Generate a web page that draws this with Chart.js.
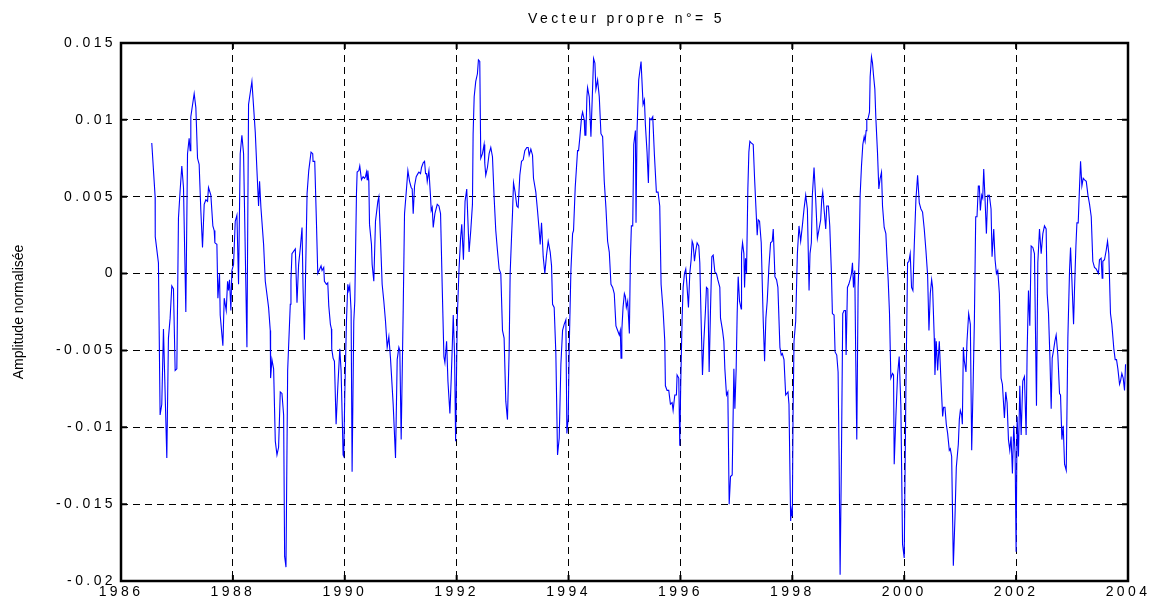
<!DOCTYPE html>
<html>
<head>
<meta charset="utf-8">
<script src="https://cdn.jsdelivr.net/npm/chart.js@4.4.1/dist/chart.umd.min.js"></script>
<style>
  html, body { margin: 0; padding: 0; background: #fff; }
  #wrap { width: 1149px; height: 600px; }
</style>
</head>
<body>
<div id="wrap"><canvas id="chart" width="1149" height="600"></canvas></div>
<script>
const titleText = 'Vecteur propre n°= 5';
const yLabel = 'Amplitude normalisée';
const xTicks = [1986, 1988, 1990, 1992, 1994, 1996, 1998, 2000, 2002, 2004];
const yTicks = [-0.02, -0.015, -0.01, -0.005, 0, 0.005, 0.01, 0.015];

// time (decimal years)
const years = [
  1986.550, 1986.610, 1986.612, 1986.669, 1986.699, 1986.729, 1986.759, 1986.819, 1986.848, 1986.878,
  1986.908, 1986.938, 1986.968, 1986.998, 1987.027, 1987.057, 1987.087, 1987.117, 1987.159, 1987.189,
  1987.218, 1987.236, 1987.248, 1987.308, 1987.338, 1987.368, 1987.397, 1987.427, 1987.457, 1987.487,
  1987.517, 1987.547, 1987.564, 1987.606, 1987.642, 1987.666, 1987.678, 1987.714, 1987.732, 1987.761,
  1987.773, 1987.821, 1987.845, 1987.881, 1987.905, 1987.922, 1987.940, 1987.964, 1987.982, 1988.012,
  1988.042, 1988.072, 1988.101, 1988.131, 1988.161, 1988.191, 1988.251, 1988.280, 1988.340, 1988.400,
  1988.430, 1988.459, 1988.477, 1988.501, 1988.549, 1988.579, 1988.638, 1988.668, 1988.674, 1988.698,
  1988.728, 1988.758, 1988.788, 1988.817, 1988.847, 1988.877, 1988.907, 1988.925, 1988.949, 1988.979,
  1989.026, 1989.038, 1989.056, 1989.116, 1989.146, 1989.175,
  1989.206, 1989.236, 1989.254, 1989.278, 1989.296, 1989.326, 1989.356, 1989.397, 1989.427, 1989.433,
  1989.463, 1989.493, 1989.517, 1989.553, 1989.576, 1989.594, 1989.624, 1989.636, 1989.672, 1989.696,
  1989.714, 1989.743, 1989.761, 1989.767, 1989.791, 1989.815, 1989.845, 1989.875, 1989.911, 1989.934,
  1989.970, 1989.982, 1990.000, 1990.030, 1990.054, 1990.072, 1990.089, 1990.113, 1990.131, 1990.161,
  1990.179, 1990.209, 1990.221, 1990.251, 1990.268, 1990.298, 1990.328, 1990.352, 1990.370, 1990.388,
  1990.400, 1990.412, 1990.430, 1990.442, 1990.477, 1990.489, 1990.519, 1990.549, 1990.591, 1990.609,
  1990.638, 1990.668, 1990.698, 1990.728, 1990.758, 1990.788, 1990.817, 1990.865, 1990.907, 1990.937,
  1990.967, 1990.984, 1991.008, 1991.044, 1991.068, 1991.092, 1991.128, 1991.158, 1991.187, 1991.205,
  1991.223, 1991.247, 1991.277, 1991.307, 1991.325, 1991.354, 1991.372, 1991.402, 1991.426, 1991.444,
  1991.462, 1991.474, 1991.504, 1991.533, 1991.545, 1991.563, 1991.581, 1991.611, 1991.653, 1991.683,
  1991.712, 1991.742, 1991.772, 1991.790, 1991.820, 1991.844, 1991.879, 1991.903, 1991.921, 1991.939,
  1991.963, 1991.981, 1992.011, 1992.041, 1992.070,
  1992.091, 1992.121, 1992.150, 1992.180, 1992.222, 1992.252, 1992.282, 1992.294, 1992.313, 1992.341,
  1992.371, 1992.389, 1992.413, 1992.431, 1992.461, 1992.490, 1992.502, 1992.520, 1992.550, 1992.580,
  1992.610, 1992.640, 1992.669, 1992.699, 1992.729, 1992.759, 1992.789, 1992.819, 1992.848, 1992.878,
  1992.908, 1992.938, 1992.956, 1992.980, 1992.998, 1993.016, 1993.045, 1993.075, 1993.099, 1993.129,
  1993.159, 1993.189, 1993.218, 1993.254, 1993.278, 1993.296, 1993.326, 1993.356, 1993.373, 1993.415,
  1993.445, 1993.475, 1993.493, 1993.517, 1993.547, 1993.576, 1993.606, 1993.636, 1993.672, 1993.696,
  1993.714, 1993.743, 1993.773, 1993.803, 1993.833, 1993.863, 1993.893, 1993.922, 1993.952, 1993.970,
  1993.994, 1994.012, 1994.042, 1994.072, 1994.089, 1994.119, 1994.161, 1994.179, 1994.203, 1994.233,
  1994.251, 1994.280, 1994.292, 1994.310, 1994.328, 1994.340, 1994.370, 1994.400, 1994.430, 1994.447,
  1994.471, 1994.489, 1994.519, 1994.549, 1994.579, 1994.609, 1994.638, 1994.668, 1994.698, 1994.728,
  1994.758, 1994.788, 1994.817, 1994.847, 1994.877, 1994.907, 1994.925, 1994.938,
  1994.952, 1994.974, 1994.998, 1995.016, 1995.033, 1995.057, 1995.087, 1995.105, 1995.123, 1995.147,
  1995.165, 1995.195, 1995.206, 1995.224, 1995.254, 1995.296, 1995.332, 1995.356, 1995.373, 1995.403,
  1995.427, 1995.451, 1995.475, 1995.505, 1995.535, 1995.570, 1995.600, 1995.630, 1995.654, 1995.690,
  1995.720, 1995.731, 1995.761, 1995.791, 1995.821, 1995.851, 1995.869, 1995.899, 1995.928, 1995.940,
  1995.970, 1995.988, 1996.006, 1996.030, 1996.048, 1996.072, 1996.095, 1996.119, 1996.143, 1996.167,
  1996.191, 1996.209, 1996.227, 1996.251, 1996.274, 1996.298, 1996.328, 1996.346, 1996.370, 1996.394,
  1996.418, 1996.447, 1996.465, 1996.489, 1996.513, 1996.537, 1996.561, 1996.585, 1996.615, 1996.644,
  1996.668, 1996.704, 1996.716, 1996.752, 1996.776, 1996.794, 1996.823, 1996.847, 1996.871, 1996.895,
  1996.925, 1996.955, 1996.973, 1996.996, 1997.014, 1997.032, 1997.056, 1997.086, 1997.092, 1997.110,
  1997.134, 1997.146, 1997.163, 1997.181, 1997.205, 1997.223, 1997.241, 1997.265, 1997.301, 1997.325,
  1997.348, 1997.372, 1997.390, 1997.414, 1997.444, 1997.480, 1997.504, 1997.527, 1997.551, 1997.581,
  1997.611, 1997.641, 1997.659, 1997.689, 1997.718, 1997.742, 1997.778, 1997.802,
  1997.821, 1997.851, 1997.881, 1997.922, 1997.940, 1997.970, 1997.982, 1998.000, 1998.012, 1998.030,
  1998.060, 1998.090, 1998.119, 1998.149, 1998.179, 1998.209, 1998.239, 1998.269, 1998.299, 1998.316,
  1998.340, 1998.358, 1998.388, 1998.418, 1998.448, 1998.478, 1998.507, 1998.525, 1998.543, 1998.567,
  1998.597, 1998.615, 1998.645, 1998.669, 1998.699, 1998.716, 1998.746, 1998.764, 1998.794, 1998.818,
  1998.836, 1998.854, 1998.878, 1998.901, 1998.925, 1998.949, 1998.961, 1998.985, 1999.009, 1999.033,
  1999.057, 1999.075, 1999.093, 1999.116, 1999.134, 1999.152, 1999.176, 1999.194, 1999.212, 1999.236,
  1999.260, 1999.284, 1999.301, 1999.319, 1999.331, 1999.355, 1999.379, 1999.391, 1999.415, 1999.433,
  1999.451, 1999.475, 1999.493, 1999.522, 1999.546, 1999.570, 1999.594, 1999.612, 1999.642, 1999.672,
  1999.690, 1999.713, 1999.737, 1999.761, 1999.791, 1999.809, 1999.821, 1999.851, 1999.881, 1999.910,
  1999.940, 1999.970, 2000.000, 2000.030, 2000.060, 2000.084, 2000.107, 2000.131, 2000.155, 2000.179,
  2000.209, 2000.239, 2000.269, 2000.299, 2000.328, 2000.358, 2000.388, 2000.418, 2000.442, 2000.466,
  2000.490, 2000.507, 2000.537, 2000.549, 2000.573, 2000.597, 2000.627, 2000.657,
  2000.687, 2000.704, 2000.728, 2000.752, 2000.776, 2000.806, 2000.824, 2000.848, 2000.878, 2000.907,
  2000.931, 2000.967, 2000.985, 2001.003, 2001.027, 2001.039, 2001.057, 2001.075, 2001.104, 2001.122,
  2001.152, 2001.182, 2001.206, 2001.230, 2001.254, 2001.278, 2001.301, 2001.325, 2001.343, 2001.361,
  2001.385, 2001.403, 2001.421, 2001.445, 2001.469, 2001.493, 2001.522, 2001.552, 2001.570, 2001.600,
  2001.624, 2001.648, 2001.672, 2001.701, 2001.731, 2001.755, 2001.791, 2001.815, 2001.839, 2001.863,
  2001.887, 2001.910, 2001.934, 2001.958, 2001.982, 2002.000, 2002.018, 2002.042, 2002.066, 2002.090,
  2002.119, 2002.149, 2002.179, 2002.197, 2002.221, 2002.245, 2002.269, 2002.299, 2002.328, 2002.346,
  2002.364, 2002.388, 2002.418, 2002.448, 2002.478, 2002.507, 2002.537, 2002.555, 2002.579, 2002.603,
  2002.627, 2002.645, 2002.669, 2002.693, 2002.716, 2002.746, 2002.776, 2002.794, 2002.818, 2002.842,
  2002.866, 2002.896, 2002.925, 2002.955, 2002.973, 2002.997, 2003.027, 2003.045, 2003.069, 2003.087,
  2003.110, 2003.134, 2003.152, 2003.176, 2003.200, 2003.224, 2003.254, 2003.284, 2003.313, 2003.343,
  2003.371, 2003.401, 2003.431, 2003.472, 2003.490, 2003.520, 2003.538, 2003.550, 2003.580, 2003.610,
  2003.634, 2003.657, 2003.687, 2003.711, 2003.747, 2003.771, 2003.795, 2003.819, 2003.849, 2003.866,
  2003.890, 2003.914, 2003.938, 2003.956
];

// normalised amplitude of eigenvector 5, same order as years
const amplitude = [
  0.0085, 0.0050, 0.0024, 0.0007, -0.0092, -0.0085, -0.0036, -0.0120, -0.0042, -0.0029,
  -0.0008, -0.0010, -0.0063, -0.0062, 0.0036, 0.0054, 0.0070, 0.0056, -0.0025, 0.0078,
  0.0088, 0.0080, 0.0102, 0.0117, 0.0108, 0.0075, 0.0071, 0.0041, 0.0017, 0.0045,
  0.0048, 0.0047, 0.0056, 0.0051, 0.0031, 0.0028, 0.0020, 0.0019, -0.0016, 0.0000,
  -0.0027, -0.0047, -0.0016, -0.0024, -0.0005, -0.0011, -0.0004, -0.0024, 0.0002, 0.0006,
  0.0034, 0.0038, -0.0007, 0.0078, 0.0090, 0.0078, -0.0048, 0.0110, 0.0125, 0.0092,
  0.0067, 0.0044, 0.0060, 0.0043, 0.0019, -0.0005, -0.0022, -0.0037, -0.0068, -0.0056,
  -0.0062, -0.0109, -0.0118, -0.0113, -0.0077, -0.0078, -0.0092, -0.0184, -0.0191, -0.0063,
  -0.0020, -0.0004, 0.0013, 0.0016, -0.0019, 0.0006,
  0.0017, 0.0030, -0.0009, -0.0043, -0.0007, 0.0052, 0.0067, 0.0079, 0.0078, 0.0073,
  0.0073, 0.0034, 0.0000, 0.0003, 0.0005, 0.0002, 0.0004, -0.0005, -0.0007, -0.0006,
  -0.0021, -0.0033, -0.0036, -0.0049, -0.0055, -0.0057, -0.0098, -0.0074, -0.0049, -0.0063,
  -0.0118, -0.0119, -0.0079, -0.0031, -0.0007, -0.0011, -0.0008, -0.0024, -0.0129, -0.0031,
  -0.0018, 0.0052, 0.0066, 0.0067, 0.0070, 0.0061, 0.0063, 0.0062, 0.0063, 0.0066,
  0.0061, 0.0067, 0.0060, 0.0032, 0.0019, 0.0006, -0.0005, 0.0034, 0.0047, 0.0050,
  0.0023, -0.0007, -0.0018, -0.0031, -0.0048, -0.0041, -0.0055, -0.0085, -0.0120, -0.0056,
  -0.0048, -0.0050, -0.0108, -0.0024, 0.0039, 0.0050, 0.0067, 0.0060, 0.0056, 0.0055,
  0.0039, 0.0057, 0.0063, 0.0065, 0.0066, 0.0065, 0.0069, 0.0072, 0.0073, 0.0065,
  0.0065, 0.0060, 0.0067, 0.0050, 0.0041, 0.0043, 0.0030, 0.0039, 0.0045, 0.0044,
  0.0039, -0.0009, -0.0054, -0.0058, -0.0044, -0.0070, -0.0091, -0.0068, -0.0048, -0.0027,
  -0.0054, -0.0109, -0.0029, 0.0002, 0.0023,
  0.0032, 0.0009, 0.0047, 0.0055, 0.0014, 0.0028, 0.0045, 0.0091, 0.0115, 0.0125,
  0.0130, 0.0139, 0.0138, 0.0075, 0.0078, 0.0084, 0.0072, 0.0064, 0.0069, 0.0078,
  0.0082, 0.0076, 0.0050, 0.0028, 0.0015, 0.0003, 0.0000, -0.0037, -0.0042, -0.0083,
  -0.0095, -0.0050, 0.0000, 0.0023, 0.0039, 0.0059, 0.0053, 0.0044, 0.0043, 0.0064,
  0.0073, 0.0074, 0.0080, 0.0082, 0.0082, 0.0077, 0.0081, 0.0077, 0.0062, 0.0053,
  0.0041, 0.0028, 0.0019, 0.0033, 0.0011, 0.0000, 0.0012, 0.0021, 0.0014, 0.0005,
  -0.0020, -0.0022, -0.0052, -0.0118, -0.0107, -0.0059, -0.0037, -0.0033, -0.0030, -0.0104,
  -0.0094, -0.0048, 0.0002, 0.0026, 0.0028, 0.0056, 0.0080, 0.0080, 0.0089, 0.0102,
  0.0105, 0.0100, 0.0090, 0.0090, 0.0115, 0.0121, 0.0115, 0.0089, 0.0121, 0.0140,
  0.0137, 0.0120, 0.0126, 0.0115, 0.0091, 0.0089, 0.0060, 0.0043, 0.0021, 0.0014,
  -0.0007, -0.0009, -0.0013, -0.0034, -0.0037, -0.0040, -0.0037, -0.0055,
  -0.0037, -0.0022, -0.0013, -0.0015, -0.0022, -0.0018, -0.0039, 0.0009, 0.0031, 0.0031,
  0.0084, 0.0093, 0.0033, 0.0093, 0.0126, 0.0138, 0.0110, 0.0113, 0.0097, 0.0079,
  0.0059, 0.0101, 0.0100, 0.0102, 0.0077, 0.0053, 0.0053, 0.0044, -0.0007, -0.0024,
  -0.0044, -0.0073, -0.0076, -0.0076, -0.0085, -0.0084, -0.0089, -0.0079, -0.0079, -0.0066,
  -0.0068, -0.0112, -0.0070, -0.0029, -0.0009, 0.0000, 0.0003, -0.0009, -0.0022, 0.0000,
  0.0009, 0.0021, 0.0019, 0.0008, 0.0015, 0.0020, 0.0018, 0.0007, -0.0031, -0.0066,
  -0.0044, -0.0024, -0.0009, -0.0010, -0.0064, -0.0024, 0.0011, 0.0012, 0.0001, 0.0000,
  -0.0004, -0.0009, -0.0029, -0.0037, -0.0044, -0.0062, -0.0079, -0.0077, -0.0150, -0.0132,
  -0.0131, -0.0062, -0.0088, -0.0062, -0.0026, -0.0002, -0.0018, -0.0023, 0.0013, 0.0020,
  0.0013, -0.0009, 0.0010, 0.0000, 0.0055, 0.0079, 0.0086, 0.0085, 0.0084, 0.0062,
  0.0044, 0.0025, 0.0035, 0.0034, 0.0020, -0.0031, -0.0057, -0.0029, -0.0018, 0.0004,
  0.0020, 0.0021, 0.0029, -0.0002, -0.0004, -0.0009, -0.0048, -0.0053,
  -0.0052, -0.0056, -0.0079, -0.0077, -0.0085, -0.0161, -0.0154, -0.0158, -0.0095, -0.0044,
  -0.0031, 0.0013, 0.0031, 0.0021, 0.0031, 0.0042, 0.0051, 0.0042, -0.0011, 0.0013,
  0.0020, 0.0051, 0.0069, 0.0048, 0.0023, 0.0029, 0.0035, 0.0048, 0.0053, 0.0042,
  0.0029, 0.0044, 0.0044, 0.0031, 0.0000, -0.0026, -0.0027, -0.0051, -0.0053, -0.0064,
  -0.0119, -0.0196, -0.0119, -0.0026, -0.0024, -0.0024, -0.0053, -0.0009, -0.0007, -0.0004,
  0.0000, 0.0007, -0.0009, 0.0002, -0.0057, -0.0108, -0.0009, 0.0011, 0.0051, 0.0070,
  0.0084, 0.0089, 0.0086, 0.0093, 0.0100, 0.0101, 0.0105, 0.0128, 0.0141, 0.0137,
  0.0129, 0.0120, 0.0101, 0.0079, 0.0055, 0.0062, 0.0066, 0.0044, 0.0030, 0.0026,
  0.0012, -0.0004, -0.0026, -0.0068, -0.0065, -0.0066, -0.0124, -0.0093, -0.0066, -0.0054,
  -0.0086, -0.0176, -0.0185, -0.0075, 0.0007, 0.0008, 0.0013, -0.0009, -0.0011, 0.0018,
  0.0048, 0.0064, 0.0046, 0.0042, 0.0040, 0.0029, 0.0015, -0.0001, -0.0037, -0.0013,
  -0.0004, -0.0009, -0.0042, -0.0066, -0.0044, -0.0063, -0.0044, -0.0070,
  -0.0093, -0.0087, -0.0087, -0.0098, -0.0104, -0.0115, -0.0114, -0.0119, -0.0190, -0.0159,
  -0.0126, -0.0111, -0.0095, -0.0089, -0.0092, -0.0098, -0.0048, -0.0057, -0.0064, -0.0044,
  -0.0026, -0.0033, -0.0115, -0.0075, -0.0031, 0.0037, 0.0037, 0.0057, 0.0057, 0.0041,
  0.0051, 0.0049, 0.0068, 0.0048, 0.0026, 0.0051, 0.0051, 0.0042, 0.0011, 0.0029,
  0.0009, 0.0000, 0.0002, -0.0013, -0.0068, -0.0072, -0.0094, -0.0077, -0.0084, -0.0108,
  -0.0115, -0.0106, -0.0130, -0.0099, -0.0117, -0.0181, -0.0093, -0.0119, -0.0073, -0.0105,
  -0.0070, -0.0067, -0.0105, -0.0051, -0.0011, -0.0034, 0.0018, 0.0017, 0.0013, -0.0037,
  -0.0086, 0.0007, 0.0029, 0.0013, 0.0026, 0.0031, 0.0029, -0.0013, -0.0026, -0.0053,
  -0.0088, -0.0055, -0.0050, -0.0044, -0.0040, -0.0053, -0.0078, -0.0079, -0.0108, -0.0099,
  -0.0124, -0.0128, -0.0042, 0.0002, 0.0017, -0.0004, -0.0033, -0.0009, 0.0018, 0.0033,
  0.0033, 0.0057, 0.0073, 0.0057, 0.0062, 0.0061, 0.0060, 0.0051, 0.0045, 0.0037,
  0.0008, 0.0004, 0.0003, 0.0000, 0.0009, 0.0010, -0.0003, 0.0008, 0.0009, 0.0015,
  0.0021, 0.0013, -0.0026, -0.0033, -0.0049, -0.0056, -0.0056, -0.0062, -0.0072, -0.0070,
  -0.0065, -0.0068, -0.0076, -0.0059
];

const points = years.map((t, i) => ({ x: t, y: amplitude[i] }));
const textFont = '"Liberation Sans", Arial, sans-serif';

function fmtY(v) {
  const r = +v.toFixed(3);
  return r === 0 ? '0' : String(r);
}

// frame, inward tick marks, title and y label (MATLAB look)
const decorations = {
  id: 'decorations',
  beforeDraw(chart) {
    chart.ctx.letterSpacing = '3.4px';
  },
  afterDraw(chart) {
    const { ctx, chartArea: a } = chart;
    const xs = chart.scales.x, ys = chart.scales.y;
    ctx.save();
    ctx.strokeStyle = '#000';
    ctx.lineWidth = 2;
    xTicks.forEach(v => {
      const px = xs.getPixelForValue(v);
      ctx.beginPath();
      ctx.moveTo(px, a.bottom); ctx.lineTo(px, a.bottom - 6);
      ctx.moveTo(px, a.top); ctx.lineTo(px, a.top + 6);
      ctx.stroke();
    });
    yTicks.forEach(v => {
      const py = ys.getPixelForValue(v);
      ctx.beginPath();
      ctx.moveTo(a.left, py); ctx.lineTo(a.left + 6, py);
      ctx.moveTo(a.right, py); ctx.lineTo(a.right - 6, py);
      ctx.stroke();
    });
    ctx.lineWidth = 2.5;
    ctx.strokeRect(a.left, a.top, a.right - a.left, a.bottom - a.top);

    ctx.fillStyle = '#000';
    ctx.font = '14px ' + textFont;
    ctx.letterSpacing = '3.4px';
    ctx.textAlign = 'center';
    ctx.textBaseline = 'alphabetic';
    ctx.fillText(titleText, (a.left + a.right) / 2 + 2, 23);

    ctx.letterSpacing = '0px';
    ctx.translate(23, (a.top + a.bottom) / 2);
    ctx.rotate(-Math.PI / 2);
    ctx.fillText(yLabel, 0, 0);
    ctx.restore();
  }
};

new Chart(document.getElementById('chart'), {
  type: 'line',
  data: {
    datasets: [{
      data: points,
      borderColor: '#0000ff',
      borderWidth: 1.1,
      pointRadius: 0,
      tension: 0,
      fill: false
    }]
  },
  options: {
    responsive: false,
    animation: false,
    layout: { padding: { top: 43, right: 21, bottom: 0, left: 0 } },
    plugins: { legend: { display: false }, tooltip: { enabled: false }, title: { display: false } },
    scales: {
      x: {
        type: 'linear',
        min: 1986,
        max: 2004,
        afterFit: s => { s.height = 19; },
        afterBuildTicks: s => { s.ticks = xTicks.map(v => ({ value: v })); },
        ticks: {
          color: '#000',
          font: { family: textFont, size: 14 },
          padding: 3,
          maxRotation: 0,
          callback: v => String(v)
        },
        grid: { color: '#000', lineWidth: 1, drawTicks: false },
        border: { display: false, dash: [7, 5] }
      },
      y: {
        min: -0.02,
        max: 0.015,
        afterFit: s => { s.width = 121; },
        afterBuildTicks: s => { s.ticks = yTicks.map(v => ({ value: v })); },
        ticks: {
          color: '#000',
          font: { family: textFont, size: 14 },
          padding: 5,
          callback: v => fmtY(v)
        },
        grid: { color: '#000', lineWidth: 1, drawTicks: false },
        border: { display: false, dash: [7, 5] }
      }
    }
  },
  plugins: [decorations]
});
</script>
</body>
</html>
